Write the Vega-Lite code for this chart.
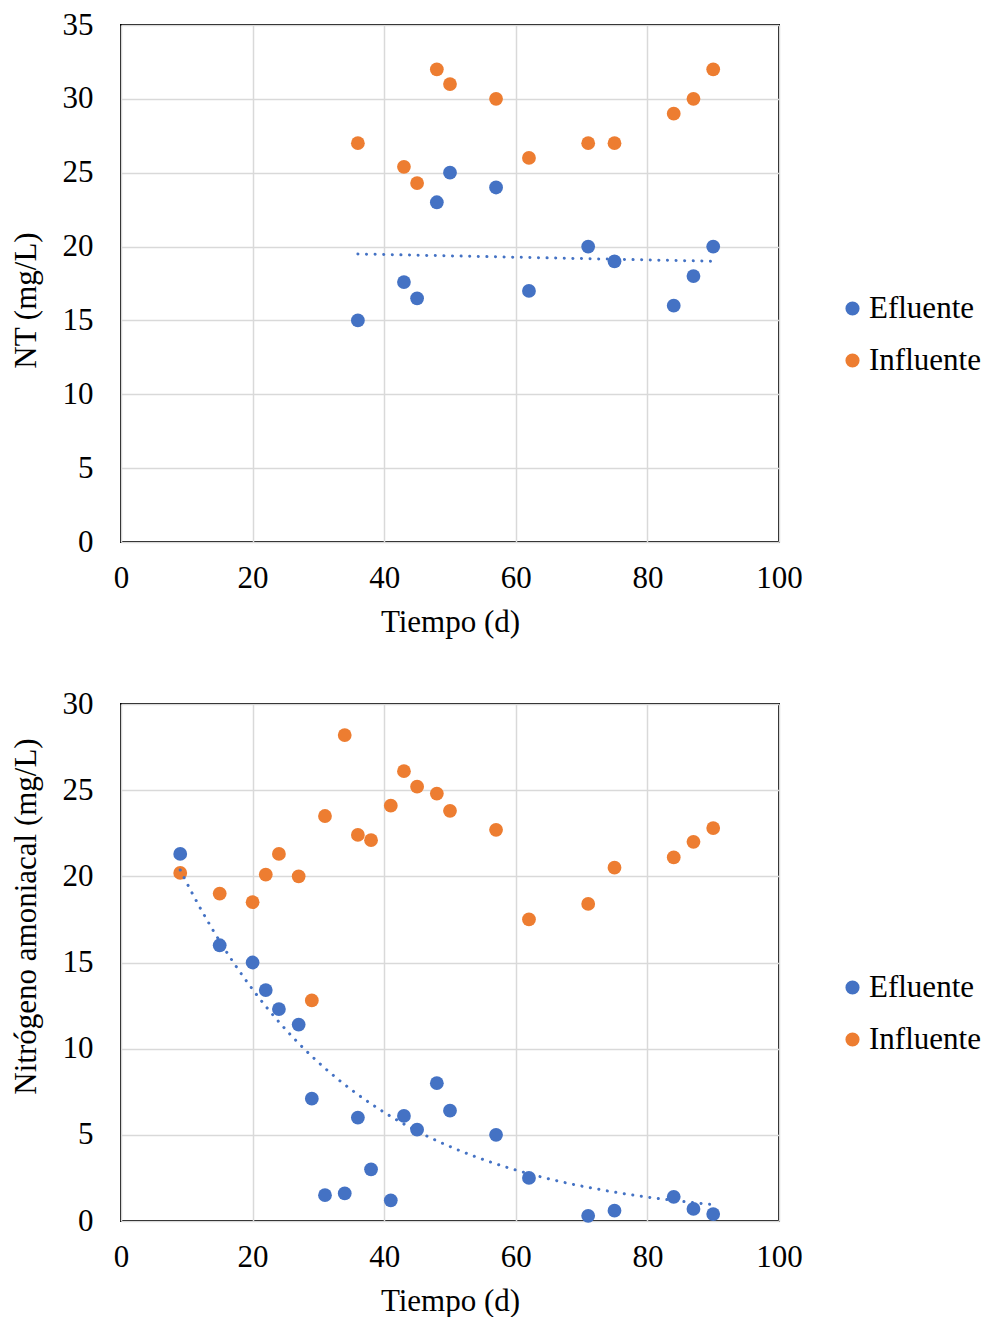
{
  "$schema": "https://vega.github.io/schema/vega-lite/v6.json",
  "background": "white",
  "padding": {"left": 9, "top": 8, "right": 0, "bottom": 0},
  "spacing": 49,
  "datasets": {
    "nt": [
      {"t": 36, "v": 15, "serie": "Efluente"},
      {"t": 43, "v": 17.6, "serie": "Efluente"},
      {"t": 45, "v": 16.5, "serie": "Efluente"},
      {"t": 48, "v": 23, "serie": "Efluente"},
      {"t": 50, "v": 25, "serie": "Efluente"},
      {"t": 57, "v": 24, "serie": "Efluente"},
      {"t": 62, "v": 17, "serie": "Efluente"},
      {"t": 71, "v": 20, "serie": "Efluente"},
      {"t": 75, "v": 19, "serie": "Efluente"},
      {"t": 84, "v": 16, "serie": "Efluente"},
      {"t": 87, "v": 18, "serie": "Efluente"},
      {"t": 90, "v": 20, "serie": "Efluente"},
      {"t": 36, "v": 27, "serie": "Influente"},
      {"t": 43, "v": 25.4, "serie": "Influente"},
      {"t": 45, "v": 24.3, "serie": "Influente"},
      {"t": 48, "v": 32, "serie": "Influente"},
      {"t": 50, "v": 31, "serie": "Influente"},
      {"t": 57, "v": 30, "serie": "Influente"},
      {"t": 62, "v": 26, "serie": "Influente"},
      {"t": 71, "v": 27, "serie": "Influente"},
      {"t": 75, "v": 27, "serie": "Influente"},
      {"t": 84, "v": 29, "serie": "Influente"},
      {"t": 87, "v": 30, "serie": "Influente"},
      {"t": 90, "v": 32, "serie": "Influente"}
    ],
    "amon": [
      {"t": 9, "v": 21.3, "serie": "Efluente"},
      {"t": 15, "v": 16, "serie": "Efluente"},
      {"t": 20, "v": 15, "serie": "Efluente"},
      {"t": 22, "v": 13.4, "serie": "Efluente"},
      {"t": 24, "v": 12.3, "serie": "Efluente"},
      {"t": 27, "v": 11.4, "serie": "Efluente"},
      {"t": 29, "v": 7.1, "serie": "Efluente"},
      {"t": 31, "v": 1.5, "serie": "Efluente"},
      {"t": 34, "v": 1.6, "serie": "Efluente"},
      {"t": 36, "v": 6, "serie": "Efluente"},
      {"t": 38, "v": 3, "serie": "Efluente"},
      {"t": 41, "v": 1.2, "serie": "Efluente"},
      {"t": 43, "v": 6.1, "serie": "Efluente"},
      {"t": 45, "v": 5.3, "serie": "Efluente"},
      {"t": 48, "v": 8, "serie": "Efluente"},
      {"t": 50, "v": 6.4, "serie": "Efluente"},
      {"t": 57, "v": 5, "serie": "Efluente"},
      {"t": 62, "v": 2.5, "serie": "Efluente"},
      {"t": 71, "v": 0.3, "serie": "Efluente"},
      {"t": 75, "v": 0.6, "serie": "Efluente"},
      {"t": 84, "v": 1.4, "serie": "Efluente"},
      {"t": 87, "v": 0.7, "serie": "Efluente"},
      {"t": 90, "v": 0.4, "serie": "Efluente"},
      {"t": 9, "v": 20.2, "serie": "Influente"},
      {"t": 15, "v": 19, "serie": "Influente"},
      {"t": 20, "v": 18.5, "serie": "Influente"},
      {"t": 22, "v": 20.1, "serie": "Influente"},
      {"t": 24, "v": 21.3, "serie": "Influente"},
      {"t": 27, "v": 20, "serie": "Influente"},
      {"t": 29, "v": 12.8, "serie": "Influente"},
      {"t": 31, "v": 23.5, "serie": "Influente"},
      {"t": 34, "v": 28.2, "serie": "Influente"},
      {"t": 36, "v": 22.4, "serie": "Influente"},
      {"t": 38, "v": 22.1, "serie": "Influente"},
      {"t": 41, "v": 24.1, "serie": "Influente"},
      {"t": 43, "v": 26.1, "serie": "Influente"},
      {"t": 45, "v": 25.2, "serie": "Influente"},
      {"t": 48, "v": 24.8, "serie": "Influente"},
      {"t": 50, "v": 23.8, "serie": "Influente"},
      {"t": 57, "v": 22.7, "serie": "Influente"},
      {"t": 62, "v": 17.5, "serie": "Influente"},
      {"t": 71, "v": 18.4, "serie": "Influente"},
      {"t": 75, "v": 20.5, "serie": "Influente"},
      {"t": 84, "v": 21.1, "serie": "Influente"},
      {"t": 87, "v": 22, "serie": "Influente"},
      {"t": 90, "v": 22.8, "serie": "Influente"}
    ]
  },
  "config": {
    "font": "Liberation Serif",
    "view": {"stroke": "#000000", "strokeWidth": 2},
    "axis": {
      "labelFont": "Liberation Serif",
      "titleFont": "Liberation Serif",
      "labelFontSize": 31,
      "titleFontSize": 31,
      "titleFontWeight": "normal",
      "labelColor": "#000000",
      "titleColor": "#000000",
      "labelFlush": false,
      "labelOverlap": false,
      "domain": false,
      "ticks": false,
      "gridColor": "#d9d9d9",
      "gridWidth": 1.5
    },
    "legend": {
      "labelFont": "Liberation Serif",
      "labelFontSize": 31,
      "labelColor": "#000000",
      "symbolType": "circle",
      "symbolSize": 200,
      "symbolStrokeWidth": 0,
      "rowPadding": 20,
      "labelOffset": 1
    }
  },
  "resolve": {"legend": {"color": "independent"}},
  "vconcat": [
    {
      "width": 658,
      "height": 517,
      "data": {"name": "nt"},
      "layer": [
        {
          "mark": {"type": "circle", "size": 190, "opacity": 1},
          "encoding": {
            "x": {"field": "t", "type": "quantitative", "scale": {"domain": [0, 100]},
                  "axis": {"values": [0, 20, 40, 60, 80, 100], "title": "Tiempo (d)", "labelPadding": 21, "titlePadding": 14}},
            "y": {"field": "v", "type": "quantitative", "scale": {"domain": [0, 35]},
                  "axis": {"values": [0, 5, 10, 15, 20, 25, 30, 35], "title": "NT (mg/L)", "labelPadding": 28, "titlePadding": 20, "titleY": 275}},
            "color": {"field": "serie", "type": "nominal",
                      "scale": {"domain": ["Efluente", "Influente"], "range": ["#4472C4", "#ED7D31"]},
                      "legend": {"title": null, "orient": "none", "legendX": 716, "legendY": 268}}
          }
        },
        {
          "transform": [
            {"filter": "datum.serie === 'Efluente'"},
            {"regression": "v", "on": "t", "method": "linear"}
          ],
          "mark": {"type": "line", "color": "#4472C4", "strokeWidth": 3, "strokeDash": [0.1, 8.5], "strokeCap": "round"},
          "encoding": {
            "x": {"field": "t", "type": "quantitative"},
            "y": {"field": "v", "type": "quantitative"}
          }
        }
      ]
    },
    {
      "width": 658,
      "height": 517,
      "data": {"name": "amon"},
      "layer": [
        {
          "mark": {"type": "circle", "size": 190, "opacity": 1},
          "encoding": {
            "x": {"field": "t", "type": "quantitative", "scale": {"domain": [0, 100]},
                  "axis": {"values": [0, 20, 40, 60, 80, 100], "title": "Tiempo (d)", "labelPadding": 21, "titlePadding": 14}},
            "y": {"field": "v", "type": "quantitative", "scale": {"domain": [0, 30]},
                  "axis": {"values": [0, 5, 10, 15, 20, 25, 30], "title": "Nitrógeno amoniacal (mg/L)", "labelPadding": 28, "titlePadding": 20, "titleY": 212}},
            "color": {"field": "serie", "type": "nominal",
                      "scale": {"domain": ["Efluente", "Influente"], "range": ["#4472C4", "#ED7D31"]},
                      "legend": {"title": null, "orient": "none", "legendX": 716, "legendY": 268}}
          }
        },
        {
          "transform": [
            {"filter": "datum.serie === 'Efluente'"},
            {"regression": "v", "on": "t", "method": "exp"}
          ],
          "mark": {"type": "line", "color": "#4472C4", "strokeWidth": 3, "strokeDash": [0.1, 8.5], "strokeCap": "round"},
          "encoding": {
            "x": {"field": "t", "type": "quantitative"},
            "y": {"field": "v", "type": "quantitative"}
          }
        }
      ]
    }
  ]
}
